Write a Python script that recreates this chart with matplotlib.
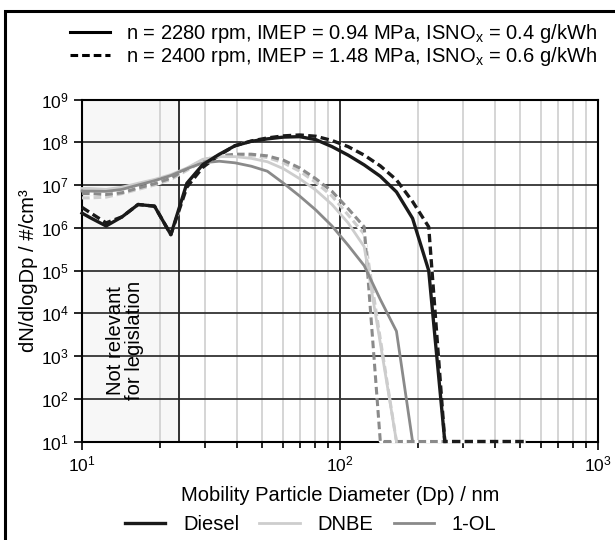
import numpy as np
import matplotlib
matplotlib.use('Agg')
import matplotlib.pyplot as plt
from matplotlib.lines import Line2D
from matplotlib.patches import Rectangle
from matplotlib.ticker import LogLocator, NullLocator

plt.rcParams['font.family'] = ['Liberation Sans', 'DejaVu Sans']
plt.rcParams['mathtext.fontset'] = 'custom'
plt.rcParams['mathtext.rm'] = 'Liberation Sans'
plt.rcParams['mathtext.it'] = 'Liberation Sans:italic'
plt.rcParams['mathtext.bf'] = 'Liberation Sans:bold'

# mobility diameter channels / nm
dp = [10.0, 10.7, 12.4, 14.3, 16.5, 19.1, 22.1, 25.5, 29.4, 34.0, 39.2, 45.3,
      52.3, 60.4, 69.8, 80.6, 93.1, 107.5, 124.1, 143.3, 165.5, 191.1, 220.7,
      254.8, 294.2, 339.7, 392.4, 453.1, 523.2]

nan = np.nan
# n = 2280 rpm (solid)
diesel_1 = [2.2e6, 1.75e6, 1.1e6, 1.8e6, 3.5e6, 3.2e6, 6.9e5, 1.1e7, 3.0e7, 5.2e7, 8.3e7, 1.05e8,
            1.2e8, 1.32e8, 1.35e8, 1.15e8, 7.9e7, 5.0e7, 2.95e7, 1.6e7, 6.9e6, 1.66e6, 1.0e5,
            10, nan, nan, nan, nan, nan]
dnbe_1 = [8.3e6, 8.3e6, 7.9e6, 8.9e6, 1.1e7, 1.35e7, 1.75e7, 2.5e7, 4.0e7, 4.6e7, 4.6e7, 4.2e7,
          3.5e7, 2.4e7, 1.4e7, 7.6e6, 3.5e6, 1.3e6, 3.6e5, 2.0e3, 10, nan, nan,
          nan, nan, nan, nan, nan, nan]
ol_1 = [7.2e6, 7.2e6, 7.1e6, 7.9e6, 1.0e7, 1.26e7, 1.66e7, 2.4e7, 3.3e7, 3.6e7, 3.3e7, 2.75e7,
        2.1e7, 1.1e7, 5.5e6, 2.6e6, 1.1e6, 3.9e5, 1.3e5, 2.1e4, 3.8e3, 10, nan,
        nan, nan, nan, nan, nan, nan]
# n = 2400 rpm (dashed)
diesel_2 = [3.0e6, 2.3e6, 1.3e6, 1.8e6, 3.5e6, 3.2e6, 6.9e5, 8.9e6, 2.6e7, 5.0e7, 8.3e7, 1.07e8,
            1.26e8, 1.41e8, 1.48e8, 1.38e8, 1.1e8, 7.9e7, 5.0e7, 2.8e7, 1.32e7, 4.1e6, 1.05e6,
            10, 10, 10, 10, 10, 10]
dnbe_2 = [5.0e6, 5.0e6, 5.2e6, 6.3e6, 7.9e6, 1.0e7, 1.35e7, 2.2e7, 3.6e7, 4.6e7, 5.0e7, 4.9e7,
          4.4e7, 3.3e7, 2.1e7, 1.15e7, 5.5e6, 2.0e6, 7.1e5, 2.5e3, 10, 10, 10,
          10, 10, 10, 10, 10, 10]
ol_2 = [6.3e6, 6.3e6, 6.0e6, 6.6e6, 8.5e6, 1.07e7, 1.45e7, 2.4e7, 3.8e7, 4.8e7, 5.25e7, 5.25e7,
        4.8e7, 3.8e7, 2.5e7, 1.4e7, 7.1e6, 2.8e6, 1.05e6, 10, 10, 10, 10,
        10, 10, 10, 10, 10, 10]

legis_limit = 23.8
c_diesel = '#1a1a1a'
c_dnbe = '#cdcdcd'
c_ol = '#8a8a8a'

fig = plt.figure(figsize=(6.15, 5.4), dpi=100)
ax = fig.add_axes([82 / 615, 1 - 441.5 / 540, 516 / 615, 342 / 540])
ax.set_xscale('log')
ax.set_yscale('log')
ax.set_xlim(10, 1000)
ax.set_ylim(10, 1e9)

ax.axvspan(10, legis_limit, color='#f7f7f7', zorder=0)
ax.grid(which='minor', axis='x', color='#d2d2d2', lw=1.3, zorder=1)
ax.grid(which='major', axis='x', color='#222222', lw=1.3)
ax.grid(which='major', axis='y', color='#333333', lw=1.3)
ax.set_axisbelow(True)
ax.axvline(legis_limit, color='#222222', lw=1.3, zorder=1.5)

ax.yaxis.set_major_locator(LogLocator(base=10, numticks=20))
ax.yaxis.set_minor_locator(NullLocator())
ax.tick_params(which='both', direction='out', labelsize=12.5, width=1.2)
ax.tick_params(which='major', length=6)
ax.tick_params(which='minor', length=4)
for s in ax.spines.values():
    s.set_linewidth(1.5)

dash = (0, (2.5, 1.3))
for y, c in [(dnbe_2, c_dnbe), (ol_2, c_ol), (diesel_2, c_diesel)]:
    ax.plot(dp, y, color=c, lw=2.4 if c == c_diesel else 2.2, linestyle=dash,
            gapcolor='white', clip_on=False, zorder=3)
for y, c in [(dnbe_1, c_dnbe), (ol_1, c_ol), (diesel_1, c_diesel)]:
    ax.plot(dp, y, color=c, lw=2.4 if c == c_diesel else 2.0, clip_on=False, zorder=4)

ax.text(14.7, 2.3e3, 'Not relevant\nfor legislation', rotation=90, ha='center', va='center',
        fontsize=14.5, linespacing=1.0)

ax.set_xlabel('Mobility Particle Diameter (Dp) / nm', fontsize=14.5, labelpad=8)
ax.set_ylabel('dN/dlogDp / #/cm³', fontsize=14.5, labelpad=2)

top_handles = [Line2D([], [], color='black', lw=2.2),
               Line2D([], [], color='black', lw=2.2, linestyle=(0, (2.5, 1.3)))]
top_labels = ['n = 2280 rpm, IMEP = 0.94 MPa, ISNO$_\\mathregular{x}$ = 0.4 g/kWh',
              'n = 2400 rpm, IMEP = 1.48 MPa, ISNO$_\\mathregular{x}$ = 0.6 g/kWh']
fig.legend(top_handles, top_labels, loc='upper left', bbox_to_anchor=(62 / 615, 1 - 14 / 540),
           frameon=False, fontsize=14.5, handlelength=2.0, handletextpad=0.8, labelspacing=0.0,
           borderaxespad=0)

bot_handles = [Line2D([], [], color=c_diesel, lw=2.4),
               Line2D([], [], color=c_dnbe, lw=2.0),
               Line2D([], [], color=c_ol, lw=2.0)]
fig.legend(bot_handles, ['Diesel', 'DNBE', '1-OL'], loc='lower center', ncol=3,
           bbox_to_anchor=(0.505, -0.022), frameon=False, fontsize=14.5, handlelength=2.0,
           handletextpad=0.9, columnspacing=1.0)

fig.add_artist(Rectangle((5 / 615, -0.02), 1.0, 1 - 11 / 540 + 0.02, transform=fig.transFigure,
                         fill=False, ec='black', lw=2.2))

fig.savefig('out.png', dpi=100)
